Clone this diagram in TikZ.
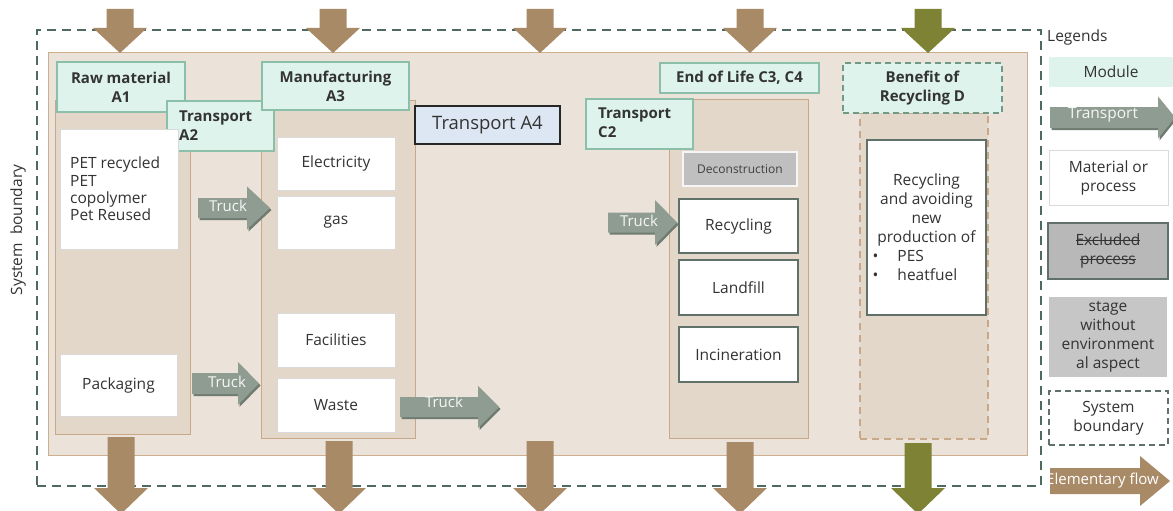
\documentclass[tikz,border=0pt]{standalone}
\usepackage{fontspec}
\setmainfont{Open Sans}
\usetikzlibrary{fit}
\newsavebox{\strkbx}
\newcommand{\strk}[1]{\sbox{\strkbx}{#1}\rlap{\rule[0.3em]{\wd\strkbx}{0.9pt}}\usebox{\strkbx}}
\definecolor{panelf}{HTML}{EBE2DA}
\definecolor{panelb}{HTML}{CDAE8E}
\definecolor{colf}{HTML}{E3D7CA}
\definecolor{colb}{HTML}{C9A889}
\definecolor{hdrf}{HTML}{DDF3EC}
\definecolor{hdrb}{HTML}{8CBFAA}
\definecolor{txt}{HTML}{333333}
\definecolor{lgray}{HTML}{D9D9D9}
\definecolor{dgreen}{HTML}{5F7168}
\definecolor{bnd}{HTML}{4F6B60}
\definecolor{brownar}{HTML}{A98A67}
\definecolor{greenar}{HTML}{7D8234}
\definecolor{truckf}{HTML}{8F9C92}
\definecolor{truckd}{HTML}{6F7A71}
\definecolor{decof}{HTML}{BFBFBF}
\definecolor{a4f}{HTML}{DDE7F4}
\definecolor{exf}{HTML}{B8B8B8}
\definecolor{stf}{HTML}{C6C6C6}
\newcommand{\bx}[8][]{\node[#2,fit={(#4,#5)(#6,#7)},inner sep=0pt] (#3) {}; \node[tx,#1] (#3-t) at (#3.center) {#8};}
\newcommand{\harr}[7]{\fill[#1] (#2,{#4-#5}) -- (#7,{#4-#5}) -- (#7,{#4-#6}) -- (#3,#4) -- (#7,{#4+#6}) -- (#7,{#4+#5}) -- (#2,{#4+#5}) -- cycle;}
\newcommand{\varr}[5]{\fill[#1] ({#2-13.5},#3) -- ({#2+13.5},#3) -- ({#2+13.5},#4) -- ({#2+27},#4) -- (#2,#5) -- ({#2-27},#4) -- ({#2-13.5},#4) -- cycle;}
\tikzset{
  tx/.style={text=txt,align=center,inner sep=0pt,font=\fontsize{15.5}{18}\selectfont},
  bold/.style={font=\bfseries\fontsize{15}{19}\selectfont},
  bound/.style={draw=bnd,line width=1.6pt,dash pattern=on 9pt off 6pt},
  panel/.style={draw=panelb,fill=panelf,line width=1pt},
  colbox/.style={draw=colb,fill=colf,line width=1pt},
  hdr/.style={draw=hdrb,fill=hdrf,line width=1.2pt},
  wbox/.style={draw=lgray,fill=white,line width=1pt},
  dbox/.style={draw=dgreen,fill=white,line width=1.5pt},
  trucktxt/.style={text=white!93!gray,font=\fontsize{15}{17}\selectfont,inner sep=0pt},
}
\begin{document}
\begin{tikzpicture}[x=1pt,y=-1pt]
\useasboundingbox[fill=white] (0,0) rectangle (1173,511);
% system boundary
\node[bound,fit={(37,30)(1041,486)},inner sep=0pt] (sysb) {};
\node[tx,rotate=90] (sysl) at (18,230) {System\ \ boundary};
% main panel
\node[panel,fit={(48,53)(1027,455)},inner sep=0pt] (main) {};
% columns
\node[colbox,fit={(55,100)(190,434)},inner sep=0pt] (colA1) {};
\node[colbox,fit={(261,100)(415,438)},inner sep=0pt] (colA3) {};
\node[colbox,fit={(669,99)(808,438)},inner sep=0pt] (colC) {};
\node[fill=colf,draw=colb,line width=1.2pt,dash pattern=on 7pt off 5pt,fit={(860,113)(988,439)},inner sep=0pt] (colD) {};
% headers
\bx[bold]{hdr}{hA1}{57}{62}{185}{112}{Raw material\\A1}
\node[hdr,fit={(167,101)(274,151)},inner sep=0pt] (hA2) {};
\node[tx,bold,align=left,anchor=west] (tA2) at (179,125.5) {Transport\\A2};
\bx[bold]{hdr}{hA3}{262}{62}{409}{110}{Manufacturing\\A3}
\bx[bold]{hdr}{hEoL}{660}{63}{819}{93}{End of Life C3, C4}
\node[hdr,fit={(586,99)(693,149)},inner sep=0pt] (hC2) {};
\node[tx,bold,align=left,anchor=west] (tC2) at (598,123) {Transport\\C2};
\bx[bold]{hdr,dash pattern=on 6pt off 4pt,draw=hdrb!80!black}{hD}{843}{63}{1002}{113}{Benefit of\\Recycling D}
\bx[font=\fontsize{18.5}{21}\selectfont]{draw=black!85,fill=a4f,line width=1.2pt}{hA4}{415}{106}{560}{144}{Transport A4}
% A1 boxes
\node[wbox,fit={(60,129)(178,249)},inner sep=0pt] (pet) {};
\node[tx,align=left,anchor=west,font=\fontsize{15.5}{17.3}\selectfont] (pet-t) at (70,189) {PET recycled\\PET\\copolymer\\Pet Reused};
\bx{wbox}{pack}{60}{354}{177}{416}{Packaging}
% A3 boxes
\bx{wbox}{elec}{277}{137}{395}{190}{Electricity}
\bx{wbox}{gas}{277}{196}{395}{249}{gas}
\bx{wbox}{fac}{277}{313}{395}{367}{Facilities}
\bx{wbox}{waste}{277}{378}{395}{432}{Waste}
% EoL boxes
\bx[text=black!75,font=\fontsize{12}{14}\selectfont]{draw=white!92!gray,fill=decof,line width=1.2pt}{deco}{683}{152}{797}{186}{Deconstruction}
\bx{dbox}{recy}{679}{199}{798}{253}{Recycling}
\bx{dbox}{landf}{679}{260}{798}{315}{Landfill}
\bx{dbox}{incin}{679}{327}{798}{382}{Incineration}
% D box
\bx[font=\fontsize{15.5}{19}\selectfont]{dbox}{dbx}{867}{140}{986}{315}{Recycling\\and avoiding\\new\\production of\\\makebox[108pt][l]{\makebox[25pt][l]{\textbullet}PES}\\\makebox[108pt][l]{\makebox[25pt][l]{\textbullet}heatfuel}}
% truck arrows
\harr{truckd,xshift=1.5pt,yshift=-2pt}{198}{270}{208}{10}{21.5}{247}
\harr{truckf}{198}{270}{208}{10}{21.5}{247}
\node[trucktxt] (tr1) at (228,206) {Truck};
\harr{truckd,xshift=1.5pt,yshift=-2pt}{192}{259}{383.5}{10.5}{21.5}{238}
\harr{truckf}{192}{259}{383.5}{10.5}{21.5}{238}
\node[trucktxt] (tr2) at (227,382) {Truck};
\harr{truckd,xshift=1.5pt,yshift=-2pt}{400}{499}{407}{10}{21}{478}
\harr{truckf}{400}{499}{407}{10}{21}{478}
\node[trucktxt] (tr3) at (444,402) {Truck};
\harr{truckd,xshift=1.5pt,yshift=-2pt}{608}{677}{222.5}{10}{22.5}{655}
\harr{truckf}{608}{677}{222.5}{10}{22.5}{655}
\node[trucktxt] (tr4) at (639,221) {Truck};
% elementary flows top
\varr{brownar}{120}{9}{28}{53}
\varr{brownar}{333}{9}{28}{53}
\varr{brownar}{540}{9}{28}{53}
\varr{brownar}{750}{9}{28}{53}
\varr{greenar}{928}{9}{28}{53}
% elementary flows bottom
\varr{brownar}{121}{437}{488}{514}
\varr{brownar}{339}{441}{488}{514}
\varr{brownar}{540}{441}{488}{514}
\varr{brownar}{740}{442}{488}{514}
\varr{greenar}{918}{443}{488}{514}
% legend
\node[tx,anchor=west] (leg) at (1047,37) {Legends};
\bx{fill=hdrf}{lmod}{1049}{57}{1173}{87}{Module}
\harr{truckd,xshift=1.5pt,yshift=-2pt}{1050}{1175}{117.5}{10.5}{21}{1158}
\harr{truckf}{1050}{1175}{117.5}{10.5}{21}{1158}
\node[trucktxt,font=\fontsize{15.5}{17}\selectfont] (ltr) at (1103,115) {Transport};
\bx[font=\fontsize{15.5}{19}\selectfont]{draw=lgray,fill=white,line width=1pt}{lmat}{1049}{150}{1168}{205}{Material or\\process}
\bx[font=\fontsize{15.5}{19}\selectfont]{draw=dgreen,fill=exf,line width=1.5pt}{lexc}{1048}{223}{1168}{279}{\strk{Excluded}\\\strk{process}}
\bx[font=\fontsize{15.5}{19}\selectfont]{fill=stf}{lstage}{1049}{297}{1167}{377}{stage\\without\\environment\\al aspect}
\bx[font=\fontsize{15.5}{19}\selectfont]{draw=dgreen,line width=1.2pt,dash pattern=on 6pt off 4pt}{lsys}{1049}{391}{1168}{445}{System\\boundary}
\begin{scope}
\clip (1050,455) rectangle (1173,511);
\fill[brownar] (1050,468) -- (1140,468) -- (1140,456) -- (1170,481) -- (1140,506) -- (1140,494) -- (1050,494) -- cycle;
\node[text=white,font=\fontsize{15}{17}\selectfont,anchor=west,inner sep=0pt] (lel) at (1046,481) {Elementary flow};
\end{scope}
\end{tikzpicture}
\end{document}
